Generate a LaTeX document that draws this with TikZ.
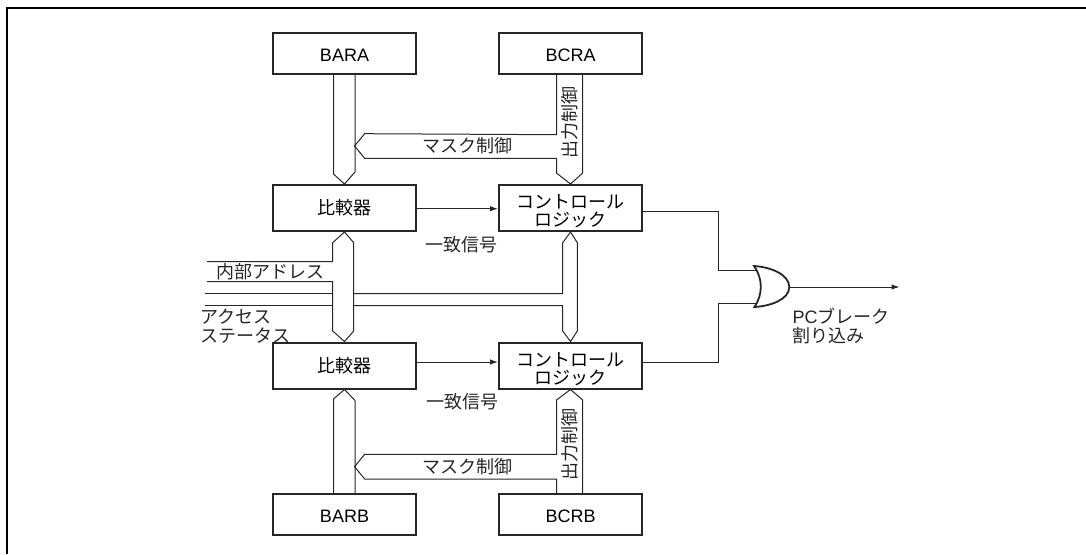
\documentclass[tikz,border=0pt]{standalone}
\usepackage{fontspec}
\setmainfont{Liberation Sans}
\newfontfamily\cjk{Noto Sans CJK JP}
\usetikzlibrary{arrows.meta}
\tikzset{
  x=1pt,y=-1pt,
  frameline/.style={line width=2pt,draw=black},
  blockbox/.style={draw=black!85,line width=2pt,fill=white,minimum width=143pt,inner sep=0pt,align=center,font=\fontsize{18}{18.3}\selectfont\cjk},
  regbox/.style={blockbox,minimum height=41pt,text height=16pt,text depth=0pt,font=\fontsize{18}{20}\selectfont},
  logicbox/.style={blockbox,minimum height=46pt},
  thinline/.style={draw=black!85,line width=1pt},
  sigarrow/.style={thinline,-{Latex[length=8pt,width=5.5pt]}},
  gateline/.style={draw=black!85,line width=1.8pt,fill=white},
  label/.style={inner sep=0pt,font=\fontsize{18}{18.5}\selectfont\cjk,text=black!85},
}
\newcommand{\logictext}{\rule{0pt}{21pt}コントロール\\ロジック}
\begin{document}
\begin{tikzpicture}
\useasboundingbox (0,0) rectangle (1086,554);
\coordinate (fa) at (7,554);
\coordinate (fb) at (7,8);
\coordinate (fc) at (1086,8);
\draw[frameline] (fa) -- (fb) -- (fc);
% boxes
\node[regbox] (bara) at (344.5,53.5) {BARA};
\node[regbox] (bcra) at (570.5,53.5) {BCRA};
\node[logicbox] (cmp1) at (344.5,208) {比較器};
\node[logicbox] (ctl1) at (570.5,208) {\logictext};
\node[logicbox] (cmp2) at (344.5,365.5) {比較器};
\node[logicbox] (ctl2) at (570.5,365.5) {\logictext};
\node[regbox] (barb) at (344.5,514.5) {BARB};
\node[regbox] (bcrb) at (570.5,514.5) {BCRB};
% top buses
\draw[thinline] (bara.south) ++(-11,0) -- ++(0,99) -- (cmp1.north) -- ++(10.5,-12) -- ++(0,-99);
\draw[thinline] (bcra.south) ++(-14,0) -- ++(0,59.7) -- (364.7,133.7) -- (354.5,146) -- (364.7,158.3) -- (556.5,158.3) -- (556.5,173) -- (ctl1.north) -- (582.7,173) -- (582.7,74);
% bottom buses
\draw[thinline] (barb.north) ++(-11,0) -- ++(0,-94) -- (cmp2.south) -- ++(10.5,11) -- ++(0,94);
\draw[thinline] (bcrb.north) ++(-14,0) -- (556.5,479) -- (364.7,479) -- (354.5,466.7) -- (364.7,454.3) -- (556.5,454.3) -- (556.5,400) -- (ctl2.south) -- (582.7,400) -- (582.7,494);
% address bus
\coordinate (a0) at (207,261.7);
\coordinate (a1) at (207,281.7);
\coordinate (a2) at (205,293.7);
\coordinate (a3) at (205,305.7);
\draw[thinline] (a0) -- (332.7,261.7) -- (332.7,242.7) -- (cmp1.south) -- (353.7,242.7) -- (353.7,331) -- (cmp2.north) -- (332.7,331) -- (332.7,281.7) -- (a1);
\draw[thinline] (a2) -- (332.7,293.7);
\draw[thinline] (a3) -- (332.7,305.7);
\draw[thinline] (353.7,293.7) -- (562.7,293.7) -- (562.7,242.7) -- (ctl1.south) -- (577.3,242.7) -- (577.3,331) -- (ctl2.north) -- (562.7,331) -- (562.7,305.7) -- (353.7,305.7);
% match signals
\draw[sigarrow] (cmp1.east |- 0,208.7) -- (ctl1.west |- 0,208.7);
\draw[sigarrow] (cmp2.east |- 0,362) -- (ctl2.west |- 0,362);
% OR gate
\coordinate (g) at (789.3,287);
\draw[thinline] (ctl1.east |- 0,211) -- (718,211) -- (718,270) -- (757,270);
\draw[thinline] (ctl2.east |- 0,362.3) -- (718,362.3) -- (718,303.3) -- (757,303.3);
\draw[gateline] (754,266) .. controls (770,267) and (789,274) .. (g) .. controls (789,300) and (770,306) .. (754.5,307) .. controls (763,294) and (763,279) .. (754,266) -- cycle;
\coordinate (out) at (899.5,287);
\draw[sigarrow] (g) -- (out);
% labels
\node[label] (m1) at (467,146) {マスク制御};
\node[label] (m2) at (467,467) {マスク制御};
\node[label,rotate=90] (o1) at (570,122) {出力制御};
\node[label,rotate=90] (o2) at (570,444) {出力制御};
\node[label] (s1) at (461,245) {一致信号};
\node[label] (s2) at (462.5,402) {一致信号};
\node[label,anchor=west] (n1) at (216.5,272) {内部アドレス};
\node[label,anchor=west,align=left] (n2) at (200,326) {アクセス\\ステータス};
\node[label,anchor=west,align=left] (pc) at (792.5,326) {{\normalfont PC}ブレーク\\割り込み};
\end{tikzpicture}
\end{document}
